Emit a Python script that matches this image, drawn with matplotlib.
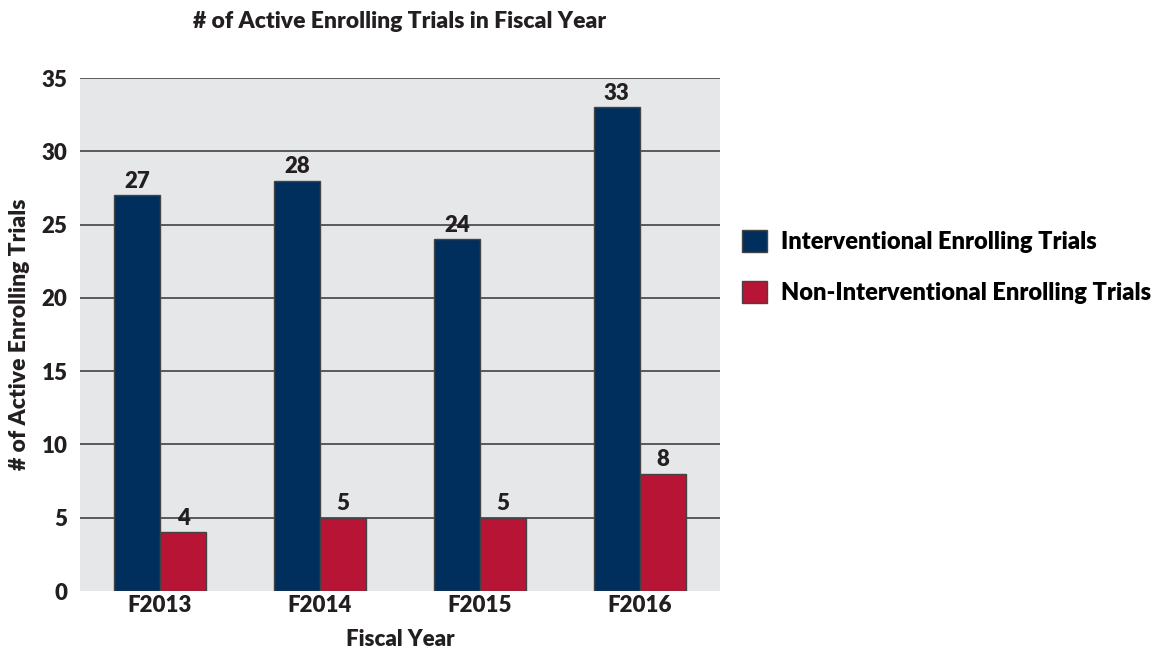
import matplotlib.pyplot as plt
import numpy as np

years = ["F2013", "F2014", "F2015", "F2016"]
interventional = [27, 28, 24, 33]
non_interventional = [4, 5, 5, 8]
series_names = ["Interventional Enrolling Trials", "Non-Interventional Enrolling Trials"]

plt.rcParams['font.family'] = ['Lato', 'DejaVu Sans']
plt.rcParams['font.weight'] = 'heavy'
txt = '#231f20'

fig = plt.figure(figsize=(11.54, 6.48), dpi=100)
ax = fig.add_axes([80 / 1154, 1 - 591 / 648, 640 / 1154, 513 / 648])
ax.set_facecolor('#e6e7e8')

x = np.arange(len(years))
w = 0.29
blue = '#002f5d'
red = '#b81435'
b1 = ax.bar(x - w / 2, interventional, w, color=blue, edgecolor='#444444', linewidth=1, zorder=3,
            label=series_names[0])
b2 = ax.bar(x + w / 2, non_interventional, w, color=red, edgecolor='#444444', linewidth=1, zorder=3,
            label=series_names[1])

# value labels above the bars
for bars in (b1, b2):
    for rect in bars:
        h = rect.get_height()
        ax.text(rect.get_x() + rect.get_width() / 2, h + 0.25, f"{h:g}", ha='center', va='bottom',
                fontsize=16, fontweight='heavy', color=txt, zorder=4)

ax.set_xlim(-0.5, 3.5)
ax.set_ylim(0, 35)
ax.set_yticks(range(0, 36, 5))
ax.set_xticks(x)
ax.set_xticklabels(years)
for yv in range(5, 36, 5):
    ax.axhline(yv, color='#333333', linewidth=1.1, zorder=2)
for s in ax.spines.values():
    s.set_visible(False)
ax.tick_params(axis='both', length=0, labelsize=16, colors=txt)
ax.tick_params(axis='y', pad=9)
ax.tick_params(axis='x', pad=3)

ax.set_xlabel("Fiscal Year", fontsize=16, fontweight='heavy', color=txt, labelpad=9)
ax.set_ylabel("# of Active Enrolling Trials", fontsize=16.5, fontweight='heavy', color=txt, labelpad=8)
fig.text(400 / 1154, 1 - 22 / 648, "# of Active Enrolling Trials in Fiscal Year", ha='center', va='center',
         fontsize=16.5, fontweight='heavy', color=txt)

fig.legend(handles=[b1, b2], loc='upper left', bbox_to_anchor=(742 / 1154, 1 - 230 / 648), frameon=False,
           borderpad=0, borderaxespad=0,
           handlelength=1.05, handleheight=1.05, handletextpad=0.62, labelspacing=1.17,
           prop={'weight': 'heavy', 'size': 17})

fig.savefig('out.png', dpi=100)
